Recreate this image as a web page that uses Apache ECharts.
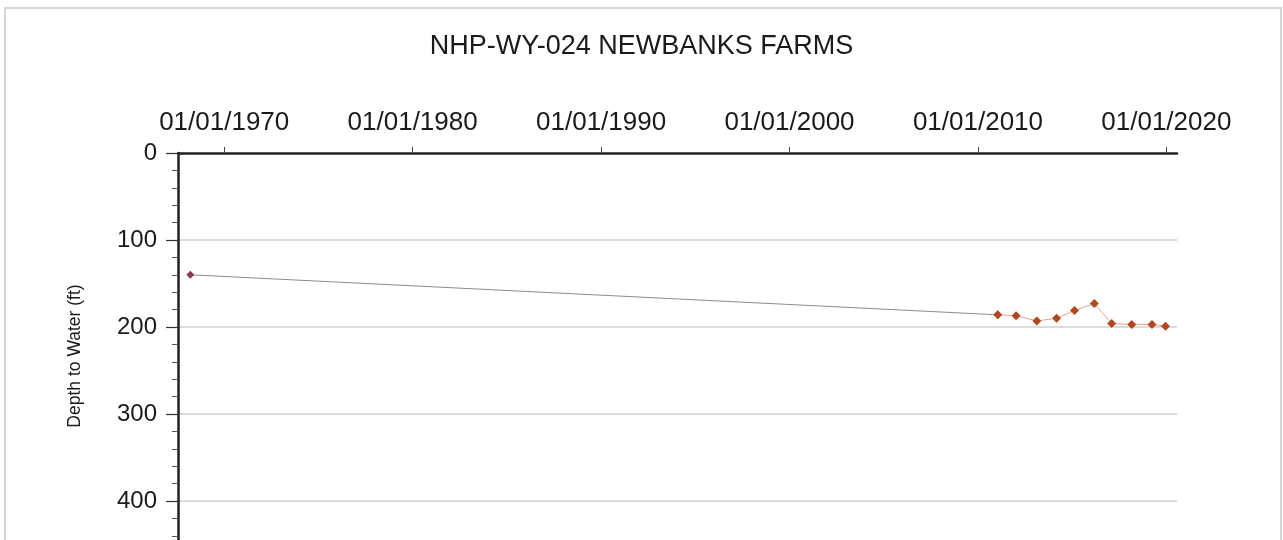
<!DOCTYPE html>
<html><head><meta charset="utf-8">
<script src="https://cdn.jsdelivr.net/npm/echarts@6/dist/echarts.min.js"></script>
<style>html,body{margin:0;padding:0;background:#fff}#c{width:1283px;height:540px}</style>
</head><body><div id="c"></div>
<script>
const title = 'NHP-WY-024 NEWBANKS FARMS';
const yName = 'Depth to Water (ft)';
const histDates = ['1968-03-15', '2011-01-20'];
const histDepth = [140, 186];
const recentDates = ['2011-01-20','2012-01-10','2013-02-15','2014-03-05','2015-02-15','2016-03-05','2017-02-05','2018-03-01','2019-03-28','2019-12-15'];
const recentDepth = [186, 187, 193, 190, 181, 173, 196, 197, 197, 199];
const xTickYears = [1970, 1980, 1990, 2000, 2010, 2020];

const ts = d => new Date(d + 'T00:00:00Z').getTime();
const xTicks = xTickYears.map(y => Date.UTC(y, 0, 1));
const pad = n => (n < 10 ? '0' : '') + n;
const fmt = v => { const d = new Date(v); return pad(d.getUTCMonth()+1) + '/' + pad(d.getUTCDate()) + '/' + d.getUTCFullYear(); };

const chart = echarts.init(document.getElementById('c'));
const font = 'Liberation Sans, Arial, sans-serif';
chart.setOption({
  animation: false,
  textStyle: { fontFamily: font },
  title: { text: title, left: 'center', top: 28, textStyle: { fontFamily: font, fontSize: 27, fontWeight: 'normal', color: '#1a1a1a' } },
  grid: { left: 178, top: 153, width: 999, height: 435, outerBoundsMode: 'none', containLabel: false },
  xAxis: {
    type: 'value', position: 'top', scale: true,
    min: Date.UTC(1967, 6, 20), max: Date.UTC(2020, 6, 25),
    axisLine: { onZero: false, lineStyle: { color: '#222', width: 2.5 } },
    axisTick: { show: true, length: 6, customValues: xTicks, lineStyle: { color: '#444' } },
    axisLabel: { customValues: xTicks, formatter: v => fmt(v), fontSize: 26, color: '#1a1a1a', margin: 17, hideOverlap: false },
    splitLine: { show: false }
  },
  yAxis: {
    type: 'value', inverse: true, min: 0, max: 500, interval: 100,
    axisLine: { show: true, onZero: false, lineStyle: { color: '#222', width: 2.5 } },
    axisTick: { show: true, length: 12, lineStyle: { color: '#333', width: 1.2 } },
    minorTick: { show: true, splitNumber: 5, length: 6, lineStyle: { color: '#555', width: 1 } },
    axisLabel: { fontSize: 24, color: '#1a1a1a', margin: 21 },
    splitLine: { show: true, showMinLine: false, lineStyle: { color: '#dcdcdc', width: 2 } }
  },
  graphic: [
    { type: 'rect', shape: { x: 5, y: 8, width: 1276, height: 540 }, style: { fill: 'none', stroke: '#d6d6d6', lineWidth: 2 }, z: -1 },
    { type: 'text', x: 75, y: 356, rotation: Math.PI / 2, style: { text: yName, fontFamily: font, fontSize: 17.5, fill: '#1a1a1a', align: 'center', verticalAlign: 'middle' } }
  ],
  series: [{
    type: 'line',
    data: histDates.map((d, i) => [ts(d), histDepth[i]]),
    lineStyle: { color: '#8c8c8c', width: 1 },
    symbol: 'diamond', symbolSize: 8,
    itemStyle: { color: '#8e3b4b' },
    z: 2
  }, {
    type: 'line',
    data: recentDates.map((d, i) => [ts(d), recentDepth[i]]),
    lineStyle: { color: '#dba58a', width: 1 },
    symbol: 'diamond', symbolSize: 9,
    itemStyle: { color: '#b4461e' },
    z: 3
  }]
});
</script></body></html>
